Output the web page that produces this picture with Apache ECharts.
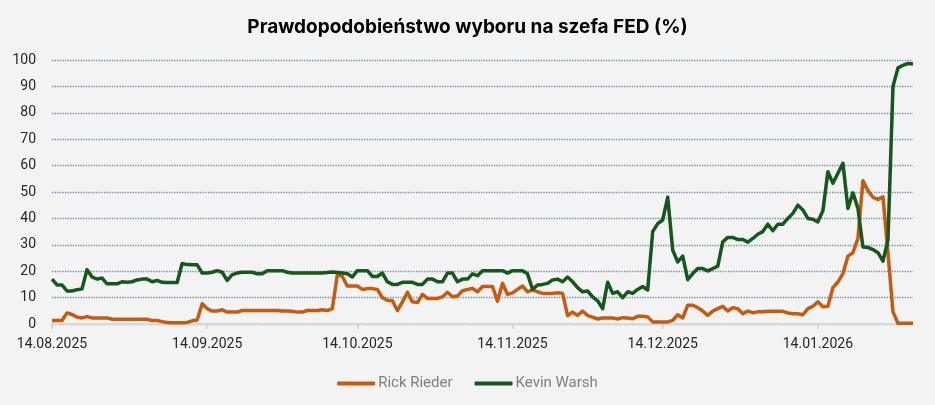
<!DOCTYPE html>
<html>
<head>
<meta charset="utf-8">
<script src="https://cdn.jsdelivr.net/npm/echarts@6/dist/echarts.min.js"></script>
<style>
    html, body { margin: 0; padding: 0; background: #f3f3f3; }
    #chart { width: 935px; height: 405px; }
</style>
</head>
<body>
<div id="chart"></div>
<script>
    // dzienne daty od 14.08.2025 do 02.02.2026
    var firstDay = [2025, 7, 14];
    var dayCount = 173;

    // Rick Rieder (%)
    var rieder = [
        1.3, 1.3, 1.3, 4.2, 3.6, 2.6, 2.3, 2.8, 2.3, 2.3,
        2.3, 2.3, 1.8, 1.8, 1.8, 1.8, 1.8, 1.8, 1.8, 1.8,
        1.3, 1.3, 0.9, 0.6, 0.5, 0.5, 0.5, 0.6, 1.2, 1.5,
        7.7, 5.8, 4.9, 4.9, 5.4, 4.5, 4.5, 4.5, 5.1, 5.1,
        5.1, 5.1, 5.1, 5.1, 5.1, 5.1, 4.9, 4.9, 4.8, 4.5,
        4.5, 5.1, 5.1, 5.1, 5.4, 5.1, 5.8, 18.7, 18, 14.4,
        14.4, 14.4, 13.1, 13.4, 13.4, 13.1, 10, 9, 8.8, 5.1,
        8.4, 12, 8.4, 8.1, 11.2, 9.7, 9.7, 9.7, 10.3, 12,
        10.3, 10.6, 12.6, 13.1, 13.5, 12.2, 14.2, 14.2, 14.2, 8.6,
        15.4, 11.2, 11.8, 13.1, 14.4, 12.2, 12.9, 12.2, 11.6, 11.6,
        11.6, 11.8, 11.6, 3.2, 4.5, 3.2, 4.9, 3.2, 2.6, 1.9,
        2.3, 2.3, 2.3, 1.9, 2.4, 2.3, 2, 2.9, 2.9, 2.7,
        0.8, 0.8, 0.8, 0.8, 1.4, 3.5, 2.3, 7.1, 7.1, 6.2,
        4.9, 3.3, 4.9, 5.8, 6.7, 4.9, 6.2, 5.8, 3.9, 4.9,
        4.3, 4.6, 4.6, 4.8, 4.8, 4.8, 4.8, 4.2, 3.9, 3.9,
        3.5, 5.8, 6.7, 8.4, 6.5, 6.7, 13.8, 15.9, 19.1, 25.7,
        27, 32.4, 54.3, 50.5, 48, 47.2, 48.2, 27, 4.6, 0.3,
        0.3, 0.3, 0.3
    ];

    // Kevin Warsh (%)
    var warsh = [
        17, 14.8, 14.8, 12.5, 12.5, 13, 13.3, 20.6, 17.8, 17,
        17.4, 15.2, 15.2, 15.2, 16, 15.8, 16, 16.7, 17, 17,
        16, 16.5, 15.8, 15.7, 15.7, 15.7, 22.9, 22.5, 22.4, 22.4,
        19.3, 19.3, 19.6, 20.2, 19.6, 16.5, 18.7, 19.3, 19.6, 19.6,
        19.6, 19, 19, 20.2, 20.2, 20.2, 20.2, 19.6, 19.3, 19.3,
        19.3, 19.3, 19.3, 19.3, 19.3, 19.5, 19.7, 19.5, 19.3, 19,
        17.8, 20.2, 20.2, 20.2, 18, 18, 19.3, 16, 15, 15,
        15.8, 15.8, 15.8, 15, 15, 17, 17, 16, 16, 19.3,
        19.3, 16, 17, 17, 19, 18.3, 20.2, 20.2, 20.2, 20.2,
        20.2, 19.3, 20.2, 20.2, 20.2, 19, 13.1, 14.8, 15, 15.4,
        16.7, 17, 16, 17.8, 16, 13.8, 12.2, 12.5, 10.3, 8.8,
        5.8, 15.8, 11.6, 12.2, 10, 12.2, 11.6, 13.1, 14.2, 12.9,
        35, 38, 39.4, 48, 28, 23.5, 25.7, 16.8, 19.1, 21,
        21, 20.1, 21, 21.9, 31.1, 32.8, 32.8, 32, 32, 31,
        32.4, 34, 35, 37.8, 35.3, 37.8, 37.8, 40, 41.9, 45,
        43.2, 40, 39.7, 38.7, 42.9, 57.7, 53.3, 57.1, 60.9, 43.8,
        49.7, 43.8, 29.2, 29, 28.2, 27, 23.8, 31.8, 90, 97,
        98, 98.7, 98.5
    ];

    function pad(n) { return (n < 10 ? '0' : '') + n; }

    var dates = [];
    for (var i = 0; i < dayCount; i++) {
        var dt = new Date(firstDay[0], firstDay[1], firstDay[2] + i);
        dates.push(pad(dt.getDate()) + '.' + pad(dt.getMonth() + 1) + '.' + dt.getFullYear());
    }

    // etykiety i znaczniki co miesiąc, zawsze 14. dnia
    function onFourteenth(idx, value) {
        return value.slice(0, 2) === '14';
    }

    var font = 'Roboto, "Noto Sans", sans-serif';
    var chart = echarts.init(document.getElementById('chart'));

    var option = {
        backgroundColor: '#f3f3f3',
        animation: false,
        title: {
            text: 'Prawdopodobieństwo wyboru na szefa FED (%)',
            left: 'center',
            top: 13,
            textStyle: { fontFamily: 'Inter, Roboto, sans-serif', fontWeight: 'bold', fontSize: 19, color: '#000' }
        },
        legend: {
            data: ['Rick Rieder', 'Kevin Warsh'],
            top: 371,
            left: 'center',
            icon: 'roundRect',
            itemWidth: 38,
            itemHeight: 4,
            itemGap: 22,
            textStyle: { fontFamily: font, fontSize: 15, color: '#7f7f7f', padding: [0, 0, 0, -2] }
        },
        grid: { left: 52, right: 22, top: 60, bottom: 81 },
        xAxis: {
            type: 'category',
            data: dates,
            boundaryGap: false,
            axisLine: { lineStyle: { color: '#d9d9d9', width: 2 } },
            axisTick: { show: true, interval: onFourteenth, length: 5, lineStyle: { color: '#d0d0d0', width: 1.5 } },
            axisLabel: { interval: onFourteenth, fontFamily: font, fontSize: 14, color: '#262626', margin: 13 },
            splitLine: { show: false }
        },
        yAxis: {
            type: 'value',
            min: 0,
            max: 100,
            interval: 10,
            axisLine: { show: false },
            axisTick: { show: false },
            axisLabel: { fontFamily: font, fontSize: 14, color: '#262626', margin: 16 },
            splitLine: { lineStyle: { type: 'dotted', color: '#6e8ba3', width: 1.3 } }
        },
        series: [
            {
                name: 'Rick Rieder',
                type: 'line',
                data: rieder,
                showSymbol: false,
                symbol: 'none',
                color: '#c55a11',
                lineStyle: { width: 3.5, color: '#c55a11', join: 'round' }
            },
            {
                name: 'Kevin Warsh',
                type: 'line',
                data: warsh,
                showSymbol: false,
                symbol: 'none',
                color: '#17561c',
                lineStyle: { width: 3.5, color: '#17561c', join: 'round' }
            }
        ]
    };

    chart.setOption(option);
</script>
</body>
</html>
